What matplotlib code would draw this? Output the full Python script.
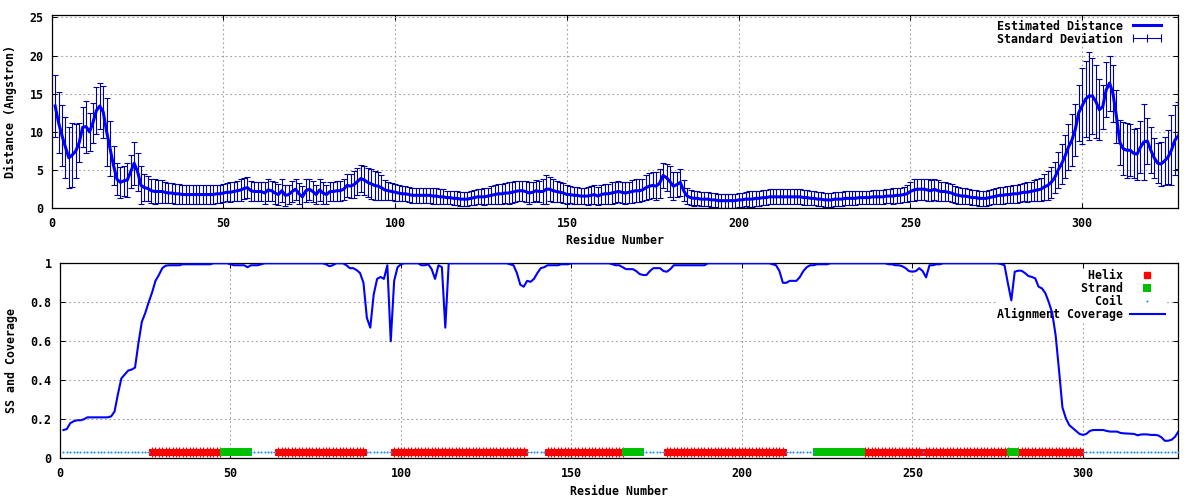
import numpy as np
import matplotlib
matplotlib.use("Agg")
import matplotlib.pyplot as plt
from matplotlib.lines import Line2D

# residue numbers
residues = np.arange(1, 329)

# estimated distance (Angstrom), one value per residue
dist = [13.4, 11.2, 9.5, 8.0, 6.6, 7.0, 7.5, 8.6, 10.6, 10.7,
        10.0, 11.2, 12.8, 13.4, 12.6, 10.0, 7.8, 5.6, 3.8, 3.4,
        3.6, 3.7, 4.8, 5.9, 4.8, 3.0, 2.7, 2.6, 2.3, 2.2,
        2.2, 2.2, 2.1, 2.0, 2.0, 1.9, 1.9, 1.8, 1.8, 1.8,
        1.8, 1.8, 1.8, 1.8, 1.8, 1.8, 1.8, 1.9, 1.9, 2.0,
        2.1, 2.1, 2.2, 2.3, 2.4, 2.6, 2.7, 2.3, 2.2, 2.2,
        2.2, 2.0, 2.4, 2.3, 2.0, 1.8, 2.3, 1.7, 1.8, 2.2,
        2.5, 1.9, 1.5, 2.3, 2.5, 2.2, 1.8, 2.4, 2.0, 1.8,
        2.2, 2.2, 2.3, 2.3, 2.5, 3.0, 2.9, 3.1, 3.5, 3.9,
        3.7, 3.4, 3.2, 3.0, 2.9, 2.7, 2.4, 2.3, 2.2, 2.1,
        2.0, 1.9, 1.9, 1.8, 1.7, 1.7, 1.7, 1.7, 1.7, 1.7,
        1.6, 1.6, 1.5, 1.5, 1.4, 1.4, 1.3, 1.3, 1.2, 1.2,
        1.2, 1.3, 1.4, 1.5, 1.5, 1.5, 1.6, 1.7, 1.8, 1.9,
        1.9, 2.0, 2.0, 2.1, 2.2, 2.3, 2.3, 2.2, 2.0, 2.1,
        2.3, 2.2, 2.2, 2.5, 2.5, 2.3, 2.2, 2.1, 2.0, 1.8,
        1.8, 1.7, 1.7, 1.6, 1.6, 1.6, 1.7, 1.8, 1.6, 1.8,
        1.9, 1.9, 2.0, 2.1, 2.2, 2.1, 2.0, 2.1, 2.2, 2.3,
        2.3, 2.4, 2.7, 2.9, 3.0, 2.9, 3.3, 4.3, 4.0, 3.5,
        2.9, 3.1, 3.4, 2.3, 1.6, 1.4, 1.3, 1.3, 1.2, 1.2,
        1.2, 1.1, 1.1, 1.0, 1.0, 1.0, 1.0, 1.0, 1.0, 1.1,
        1.1, 1.2, 1.2, 1.2, 1.3, 1.3, 1.4, 1.4, 1.5, 1.5,
        1.5, 1.5, 1.5, 1.5, 1.5, 1.5, 1.5, 1.5, 1.4, 1.4,
        1.3, 1.3, 1.2, 1.2, 1.1, 1.1, 1.1, 1.2, 1.2, 1.2,
        1.3, 1.3, 1.3, 1.3, 1.4, 1.4, 1.4, 1.4, 1.5, 1.5,
        1.5, 1.5, 1.6, 1.6, 1.6, 1.7, 1.7, 1.8, 1.9, 2.2,
        2.4, 2.5, 2.5, 2.5, 2.4, 2.3, 2.5, 2.3, 2.2, 2.2,
        2.1, 2.0, 1.8, 1.7, 1.6, 1.6, 1.5, 1.4, 1.4, 1.3,
        1.3, 1.3, 1.4, 1.5, 1.6, 1.7, 1.7, 1.8, 1.8, 1.9,
        1.9, 2.0, 2.1, 2.1, 2.2, 2.3, 2.4, 2.5, 2.8, 3.0,
        3.4, 4.0, 5.0, 5.8, 6.8, 8.0, 8.9, 10.3, 12.5, 13.4,
        14.3, 14.7, 14.7, 14.0, 12.9, 13.3, 15.5, 16.4, 15.0, 12.0,
        8.6, 7.8, 7.6, 7.6, 7.2, 7.1, 8.0, 8.7, 8.8, 7.6,
        6.6, 5.9, 5.8, 6.2, 6.7, 7.6, 8.9, 9.5]

# standard deviation of the distance
std = [4.0, 4.0, 4.0, 4.0, 4.0, 4.2, 3.5, 2.6, 2.6, 3.4,
       2.5, 2.6, 3.1, 3.0, 3.4, 4.4, 3.6, 2.6, 2.1, 2.0,
       2.0, 2.2, 2.2, 2.8, 2.5, 2.5, 1.8, 1.6, 1.6, 1.6,
       1.5, 1.5, 1.4, 1.3, 1.3, 1.3, 1.3, 1.3, 1.3, 1.2,
       1.2, 1.2, 1.2, 1.2, 1.2, 1.2, 1.2, 1.2, 1.2, 1.2,
       1.2, 1.3, 1.3, 1.3, 1.4, 1.4, 1.4, 1.3, 1.3, 1.3,
       1.3, 1.4, 1.5, 1.3, 1.4, 1.4, 1.5, 1.4, 1.3, 1.4,
       1.4, 1.4, 1.4, 1.5, 1.4, 1.4, 1.3, 1.4, 1.4, 1.3,
       1.3, 1.3, 1.3, 1.3, 1.4, 1.5, 1.6, 1.8, 1.8, 1.8,
       1.9, 1.9, 2.0, 1.9, 1.8, 1.6, 1.3, 1.2, 1.1, 1.1,
       1.0, 1.0, 1.0, 1.0, 1.0, 1.0, 1.0, 1.0, 1.0, 1.0,
       1.0, 1.0, 1.0, 1.0, 0.9, 0.9, 0.9, 0.9, 0.9, 0.9,
       0.9, 0.9, 1.0, 1.0, 1.0, 1.1, 1.1, 1.2, 1.2, 1.3,
       1.3, 1.3, 1.4, 1.4, 1.4, 1.3, 1.3, 1.4, 1.4, 1.3,
       1.4, 1.4, 1.6, 1.9, 1.6, 1.5, 1.4, 1.3, 1.3, 1.2,
       1.1, 1.1, 1.1, 1.1, 1.1, 1.2, 1.2, 1.2, 1.2, 1.3,
       1.3, 1.3, 1.4, 1.4, 1.4, 1.4, 1.4, 1.4, 1.5, 1.5,
       1.5, 1.5, 1.6, 1.7, 1.7, 1.8, 1.9, 1.6, 1.8, 2.0,
       1.8, 1.6, 1.8, 1.4, 1.1, 1.0, 1.0, 0.9, 0.9, 0.9,
       0.9, 0.9, 0.9, 0.9, 0.9, 0.9, 0.9, 0.9, 0.9, 0.9,
       0.9, 0.9, 1.0, 1.0, 1.0, 1.0, 1.0, 1.0, 1.0, 1.0,
       1.0, 1.0, 1.0, 1.0, 1.0, 1.0, 1.0, 1.0, 1.0, 1.0,
       0.9, 0.9, 0.9, 0.9, 0.9, 0.9, 0.9, 0.9, 0.9, 0.9,
       0.9, 0.9, 0.9, 0.9, 0.9, 0.9, 0.9, 0.9, 0.9, 0.9,
       0.9, 0.9, 0.9, 0.9, 1.0, 1.0, 1.0, 1.0, 1.1, 1.3,
       1.4, 1.4, 1.4, 1.4, 1.4, 1.4, 1.4, 1.4, 1.3, 1.3,
       1.2, 1.2, 1.1, 1.1, 1.0, 1.0, 1.0, 1.0, 1.0, 1.0,
       1.0, 1.0, 1.0, 1.0, 1.1, 1.1, 1.1, 1.1, 1.1, 1.2,
       1.2, 1.2, 1.2, 1.3, 1.3, 1.4, 1.5, 1.5, 1.7, 1.9,
       2.0, 2.0, 2.4, 2.6, 2.8, 3.0, 3.4, 3.4, 3.7, 5.0,
       5.0, 5.8, 5.0, 4.8, 4.0, 2.9, 3.6, 3.6, 3.7, 3.5,
       2.9, 3.5, 3.6, 3.4, 3.2, 3.4, 3.4, 5.0, 3.0, 3.0,
       2.6, 2.6, 2.9, 3.2, 3.5, 4.6, 4.6, 4.4]

# alignment coverage
coverage = [0.145, 0.15, 0.18, 0.19, 0.195, 0.195, 0.20, 0.21, 0.21, 0.21,
            0.21, 0.21, 0.21, 0.21, 0.215, 0.24, 0.33, 0.41, 0.43, 0.45,
            0.455, 0.465, 0.59, 0.70, 0.745, 0.80, 0.85, 0.91, 0.94, 0.975,
            0.988, 0.99, 0.99, 0.99, 0.99, 0.995, 0.995, 0.995, 0.995, 0.995,
            0.995, 0.995, 0.995, 0.995, 1.0, 1.0, 1.0, 1.0, 1.0, 0.995,
            0.99, 0.99, 0.99, 0.99, 0.98, 0.99, 0.99, 0.99, 0.995, 1.0,
            1.0, 1.0, 1.0, 1.0, 1.0, 1.0, 1.0, 1.0, 1.0, 1.0,
            1.0, 1.0, 1.0, 1.0, 1.0, 1.0, 1.0, 0.995, 0.985, 0.99,
            1.0, 1.0, 1.0, 0.99, 0.975, 0.975, 0.965, 0.95, 0.90, 0.72,
            0.67, 0.84, 0.92, 0.93, 0.92, 0.99, 0.60, 0.91, 0.98, 0.995,
            1.0, 1.0, 1.0, 1.0, 1.0, 0.99, 0.99, 0.995, 0.97, 0.92,
            0.99, 0.98, 0.67, 1.0, 1.0, 1.0, 1.0, 1.0, 1.0, 1.0,
            1.0, 1.0, 1.0, 1.0, 1.0, 1.0, 1.0, 1.0, 1.0, 1.0,
            1.0, 0.995, 0.99, 0.95, 0.89, 0.88, 0.91, 0.905, 0.92, 0.95,
            0.975, 0.98, 0.99, 0.99, 0.99, 0.99, 0.995, 0.995, 0.995, 1.0,
            1.0, 1.0, 1.0, 1.0, 1.0, 1.0, 1.0, 1.0, 1.0, 1.0,
            1.0, 0.995, 0.99, 0.99, 0.98, 0.97, 0.97, 0.97, 0.96, 0.945,
            0.94, 0.94, 0.96, 0.975, 0.975, 0.975, 0.96, 0.957, 0.97, 0.99,
            0.99, 0.99, 0.99, 0.99, 0.99, 0.99, 0.99, 0.99, 0.99, 1.0,
            1.0, 1.0, 1.0, 1.0, 1.0, 1.0, 1.0, 1.0, 1.0, 1.0,
            1.0, 1.0, 1.0, 1.0, 1.0, 1.0, 1.0, 1.0, 0.995, 0.99,
            0.96, 0.90, 0.90, 0.91, 0.91, 0.91, 0.93, 0.96, 0.98, 0.99,
            0.99, 0.995, 0.995, 0.995, 0.995, 1.0, 1.0, 1.0, 1.0, 1.0,
            1.0, 1.0, 1.0, 1.0, 1.0, 1.0, 1.0, 1.0, 1.0, 1.0,
            1.0, 1.0, 0.995, 0.995, 0.99, 0.99, 0.985, 0.975, 0.96, 0.957,
            0.96, 0.975, 0.96, 0.928, 0.99, 0.99, 0.995, 0.995, 1.0, 1.0,
            1.0, 1.0, 1.0, 1.0, 1.0, 1.0, 1.0, 1.0, 1.0, 1.0,
            1.0, 1.0, 1.0, 1.0, 1.0, 0.996, 0.99, 0.897, 0.81, 0.957,
            0.962, 0.962, 0.95, 0.935, 0.93, 0.923, 0.88, 0.871, 0.846, 0.80,
            0.745, 0.63, 0.45, 0.26, 0.205, 0.17, 0.155, 0.14, 0.125, 0.12,
            0.125, 0.14, 0.145, 0.145, 0.145, 0.145, 0.14, 0.137, 0.137, 0.137,
            0.13, 0.128, 0.127, 0.126, 0.125, 0.118, 0.122, 0.123, 0.122, 0.12,
            0.12, 0.118, 0.108, 0.09, 0.09, 0.095, 0.11, 0.137]

# secondary structure segments (H helix, E strand, C coil)
ss_type = ["C", "H", "E", "C", "H", "C", "H", "C", "H", "E",
           "C", "H", "C", "E", "H", "C", "H", "E", "H", "C"]
ss_start = [1, 27, 48, 56, 64, 90, 98, 137, 143, 166,
            171, 178, 213, 222, 236, 253, 254, 279, 281, 300]
ss_end = [26, 47, 55, 63, 89, 97, 136, 142, 165, 170,
          177, 212, 221, 235, 252, 253, 278, 280, 299, 328]
ss_level = 0.03

ss = np.empty(len(residues), dtype=object)
for t, a, b in zip(ss_type, ss_start, ss_end):
    ss[(residues >= a) & (residues <= b)] = t

FONT = {"family": "DejaVu Sans Mono", "weight": "bold", "size": 8.4}
plt.rcParams["font.family"] = "DejaVu Sans Mono"
plt.rcParams["font.weight"] = "bold"
plt.rcParams["font.size"] = 8.4


def style_axes(ax):
    ax.grid(True, color="#a0a0a0", linestyle=(0, (1.5, 2.5)), linewidth=0.8)
    ax.set_axisbelow(True)
    ax.tick_params(direction="in", length=3.6, width=0.75, top=True, right=True,
                   labelsize=8.4, pad=6)
    for s in ax.spines.values():
        s.set_linewidth(0.9)
    ax.set_xticks(np.arange(0, 301, 50))
    ax.set_xlim(0, 328)


fig = plt.figure(figsize=(12, 5), dpi=100)

# top panel: estimated distance
ax1 = fig.add_axes([0.0431, 0.5834, 0.9388, 0.3872])
style_axes(ax1)
ax1.errorbar(residues, dist, yerr=std, fmt="none", ecolor="#0000a0",
             elinewidth=0.8, capsize=2.5, capthick=0.8, zorder=2)
ax1.plot(residues, dist, color="#0000ff", linewidth=2.2, zorder=3)
ax1.set_ylim(0, 25.35)
ax1.set_yticks([0, 5, 10, 15, 20, 25])
ax1.set_xlabel("Residue Number", fontdict=FONT)
ax1.set_ylabel("Distance (Angstron)", fontdict=FONT)
ax1.xaxis.set_label_coords(0.5, -0.135)
ax1.yaxis.set_label_coords(-0.031, 0.5)

h1 = [Line2D([], [], color="#0000ff", linewidth=2.2),
      Line2D([], [], color="#0000a0", linewidth=0.8, marker="|",
             markersize=6, markeredgewidth=0.8)]
ax1.legend(h1, ["Estimated Distance", "Standard Deviation"], loc="upper right",
           bbox_to_anchor=(0.988, 0.975), markerfirst=False, numpoints=3,
           frameon=False, borderaxespad=0, borderpad=0, handlelength=3.0,
           handletextpad=0.6, labelspacing=0.0, prop=FONT)

# bottom panel: secondary structure and coverage
ax2 = fig.add_axes([0.05, 0.0834, 0.932, 0.39])
style_axes(ax2)
hel = residues[ss == "H"]
strd = residues[ss == "E"]
coil = residues[ss == "C"]
ax2.plot(hel, np.full(len(hel), ss_level), linestyle="none", marker="s",
         markersize=5.0, markeredgewidth=0.8, markeredgecolor="#ff0000",
         color="#ff0000", label="Helix", zorder=3)
ax2.plot(hel, np.full(len(hel), ss_level), linestyle="none", marker="+",
         markersize=7.5, markeredgewidth=0.8, color="#ff0000", zorder=3)
ax2.plot(strd, np.full(len(strd), ss_level), linestyle="none", marker="s",
         markersize=5.6, markeredgewidth=0, color="#00c000", label="Strand", zorder=3)
ax2.plot(coil, np.full(len(coil), ss_level), linestyle="none", marker="o",
         markersize=1.5, markeredgewidth=0, color="#1e90ff", label="Coil", zorder=3)
ax2.plot(residues, coverage, color="#0000ff", linewidth=1.5,
         label="Alignment Coverage", zorder=4)
ax2.set_ylim(0, 1)
ax2.set_yticks([0, 0.2, 0.4, 0.6, 0.8, 1.0])
ax2.set_yticklabels(["0", "0.2", "0.4", "0.6", "0.8", "1"])
ax2.set_xlabel("Residue Number", fontdict=FONT)
ax2.set_ylabel("SS and Coverage", fontdict=FONT)
ax2.xaxis.set_label_coords(0.5, -0.135)
ax2.yaxis.set_label_coords(-0.038, 0.5)

labels = ["             Helix", "            Strand", "              Coil",
          "Alignment Coverage"]
handles = [Line2D([], [], linestyle="none", marker="s", markersize=4.8,
                  color="#ff0000"),
           Line2D([], [], linestyle="none", marker="s", markersize=5.4,
                  markeredgewidth=0, color="#00c000"),
           Line2D([], [], linestyle="none", marker="o", markersize=1.5,
                  markeredgewidth=0, color="#1e90ff"),
           Line2D([], [], color="#0000ff", linewidth=1.5)]
leg = ax2.legend(handles, labels, loc="upper right", bbox_to_anchor=(0.988, 0.972),
                 markerfirst=False, numpoints=1, frameon=True, fancybox=False,
                 facecolor="white", edgecolor="none", framealpha=1.0,
                 borderaxespad=0, borderpad=0, handlelength=3.0,
                 handletextpad=0.6, labelspacing=0.0, prop=FONT)
leg.set_zorder(1)

fig.savefig("out.png", dpi=100)
